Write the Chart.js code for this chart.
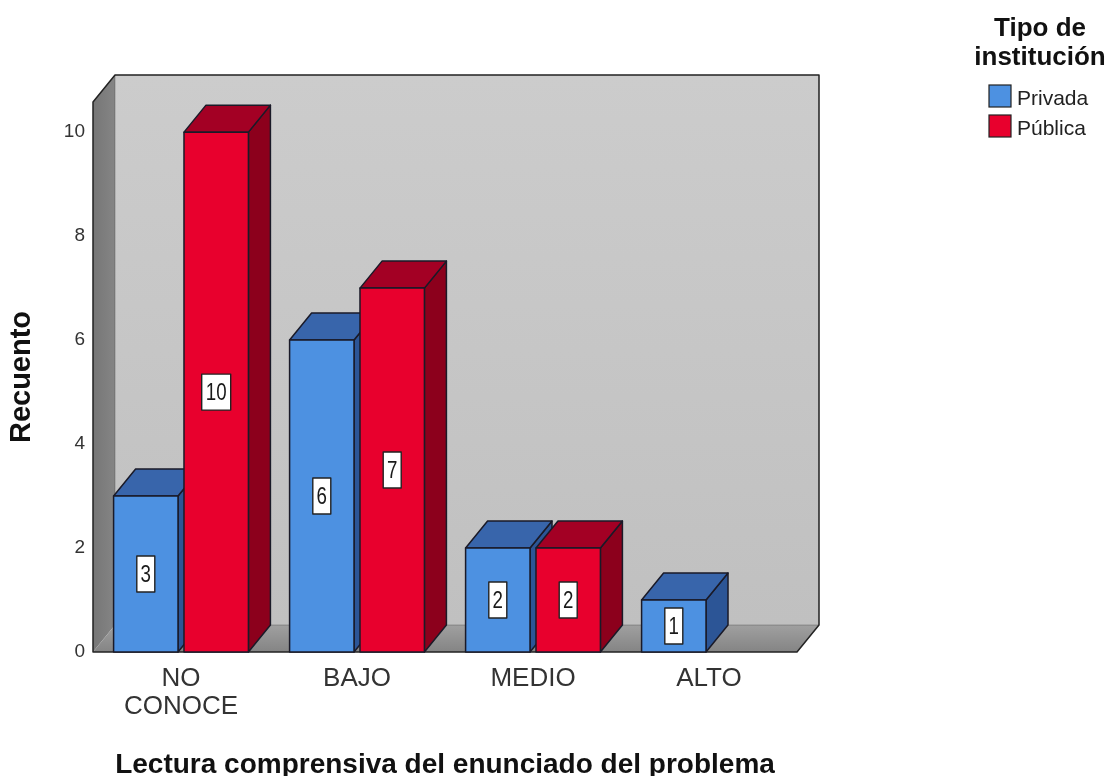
<!DOCTYPE html>
<html>
<head>
<meta charset="utf-8">
<title>Lectura comprensiva del enunciado del problema</title>
<script src="https://cdn.jsdelivr.net/npm/chart.js@4.4.1/dist/chart.umd.min.js"></script>
<style>
  html, body { margin: 0; padding: 0; background: #ffffff; }
  canvas { display: block; }
</style>
</head>
<body>
<canvas id="chart" width="1111" height="776"></canvas>
<script>
// Data
const categories = [['NO', 'CONOCE'], 'BAJO', 'MEDIO', 'ALTO'];
const privada = [3, 6, 2, 1];
const publica = [10, 7, 2, 0];
const seriesNames = ['Privada', 'Pública'];
const yTickValues = [0, 2, 4, 6, 8, 10];
const yMax = 10.58;
const legendTitle = ['Tipo de', 'institución'];
const xTitle = 'Lectura comprensiva del enunciado del problema';
const yTitle = 'Recuento';

// Styling
const FONT = '"Liberation Sans", Arial, Helvetica, sans-serif';
const DX = 22, DY = 27;              // depth offset of the 3D box
const EDGE = '#1a1a28';
const faces = {
  'Privada': { front: '#4d91e1', top: '#3865ab', side: '#2c5596' },
  'Pública': { front: '#e8002d', top: '#a30024', side: '#8c001c' }
};

function poly(ctx, pts) {
  ctx.beginPath();
  ctx.moveTo(pts[0][0], pts[0][1]);
  for (let i = 1; i < pts.length; i++) ctx.lineTo(pts[i][0], pts[i][1]);
  ctx.closePath();
}

// Walls, floor and extruded bars
const depthPlugin = {
  id: 'depth3d',
  beforeDatasetsDraw(chart) {
    const { ctx, chartArea: a } = chart;
    const L = a.left, R = a.right, T = a.top, B = a.bottom;
    ctx.save();
    // back wall
    const gw = ctx.createLinearGradient(0, T - DY, 0, B - DY);
    gw.addColorStop(0, '#cccccc');
    gw.addColorStop(1, '#c0c0c0');
    ctx.fillStyle = gw;
    ctx.fillRect(L + DX, T - DY, R - L, B - T);
    // left wall
    const gl = ctx.createLinearGradient(L, 0, L + DX, 0);
    gl.addColorStop(0, '#767676');
    gl.addColorStop(1, '#858585');
    ctx.fillStyle = gl;
    poly(ctx, [[L, T], [L + DX, T - DY], [L + DX, B - DY], [L, B]]);
    ctx.fill();
    // floor
    const gf = ctx.createLinearGradient(0, B - DY, 0, B);
    gf.addColorStop(0, '#a0a0a0');
    gf.addColorStop(1, '#848484');
    ctx.fillStyle = gf;
    poly(ctx, [[L, B], [R, B], [R + DX, B - DY], [L + DX, B - DY]]);
    ctx.fill();
    // inner seams
    ctx.strokeStyle = 'rgba(60,60,60,0.35)';
    ctx.lineWidth = 1;
    ctx.beginPath();
    ctx.moveTo(L + DX, T - DY); ctx.lineTo(L + DX, B - DY); ctx.lineTo(R + DX, B - DY);
    ctx.stroke();
    // outline
    ctx.strokeStyle = '#222222';
    ctx.lineWidth = 1.5;
    ctx.lineJoin = 'round';
    poly(ctx, [[L, B], [L, T], [L + DX, T - DY], [R + DX, T - DY], [R + DX, B - DY], [R, B]]);
    ctx.stroke();
    ctx.restore();
  },
  afterDatasetsDraw(chart) {
    const ctx = chart.ctx;
    const bars = [];
    chart.data.datasets.forEach((ds, di) => {
      const meta = chart.getDatasetMeta(di);
      meta.data.forEach((el, i) => {
        const v = ds.data[i];
        if (!v) return;
        const p = el.getProps(['x', 'y', 'base', 'width'], true);
        bars.push({ x: p.x, y: p.y, base: p.base, width: p.width, v, face: faces[ds.label] });
      });
    });
    bars.sort((a, b) => a.x - b.x);
    ctx.save();
    ctx.lineWidth = 1.5;
    ctx.lineJoin = 'round';
    ctx.strokeStyle = EDGE;
    bars.forEach(b => {
      const l = b.x - b.width / 2, r = b.x + b.width / 2, t = b.y, bot = b.base;
      // side
      ctx.fillStyle = b.face.side;
      poly(ctx, [[r, t], [r + DX, t - DY], [r + DX, bot - DY], [r, bot]]);
      ctx.fill(); ctx.stroke();
      // top
      ctx.fillStyle = b.face.top;
      poly(ctx, [[l, t], [l + DX, t - DY], [r + DX, t - DY], [r, t]]);
      ctx.fill(); ctx.stroke();
      // front
      ctx.fillStyle = b.face.front;
      ctx.fillRect(l, t, r - l, bot - t);
      ctx.strokeRect(l, t, r - l, bot - t);
    });
    // value boxes (narrow, tall digits)
    const sx = 0.78;
    ctx.font = '24px ' + FONT;
    ctx.textAlign = 'center';
    ctx.textBaseline = 'middle';
    bars.forEach(b => {
      const txt = String(b.v);
      const tw = ctx.measureText(txt).width * sx;
      const bw = Math.round(tw + 8), bh = 36;
      const cx = b.x, cy = (b.y + b.base) / 2;
      ctx.fillStyle = '#ffffff';
      ctx.fillRect(cx - bw / 2, cy - bh / 2, bw, bh);
      ctx.strokeStyle = '#222222';
      ctx.lineWidth = 1.4;
      ctx.strokeRect(cx - bw / 2, cy - bh / 2, bw, bh);
      ctx.save();
      ctx.translate(cx, cy + 1);
      ctx.scale(sx, 1);
      ctx.fillStyle = '#1a1a1a';
      ctx.fillText(txt, 0, 0);
      ctx.restore();
    });
    ctx.restore();
  }
};

// Legend with title at the upper right
const sideLegend = {
  id: 'sideLegend',
  afterDraw(chart) {
    const ctx = chart.ctx;
    ctx.save();
    ctx.fillStyle = '#111111';
    ctx.font = 'bold 26px ' + FONT;
    ctx.textAlign = 'center';
    ctx.textBaseline = 'alphabetic';
    legendTitle.forEach((line, i) => ctx.fillText(line, 1040, 36 + i * 29));
    ctx.font = '21px ' + FONT;
    ctx.textAlign = 'left';
    chart.data.datasets.forEach((ds, i) => {
      const y = 85 + i * 30;
      ctx.fillStyle = ds.backgroundColor;
      ctx.fillRect(989, y, 22, 22);
      ctx.strokeStyle = '#222222';
      ctx.lineWidth = 1.2;
      ctx.strokeRect(989, y, 22, 22);
      ctx.fillStyle = '#222222';
      ctx.fillText(ds.label, 1017, y + 20);
    });
    ctx.restore();
  }
};

new Chart(document.getElementById('chart'), {
  type: 'bar',
  data: {
    labels: categories,
    datasets: [
      { label: seriesNames[0], data: privada, backgroundColor: faces['Privada'].front, borderWidth: 0 },
      { label: seriesNames[1], data: publica, backgroundColor: faces['Pública'].front, borderWidth: 0 }
    ]
  },
  options: {
    responsive: false,
    animation: false,
    devicePixelRatio: 1,
    categoryPercentage: 0.8,
    barPercentage: 0.915,
    layout: { padding: { top: 102, right: 314, bottom: 0, left: 0 } },
    plugins: {
      legend: { display: false },
      tooltip: { enabled: false }
    },
    scales: {
      x: {
        grid: { display: false, drawTicks: false },
        border: { display: false },
        ticks: {
          color: '#333333',
          font: { family: FONT, size: 26, lineHeight: 1.08 },
          padding: 13,
          maxRotation: 0,
          autoSkip: false
        },
        title: {
          display: true,
          text: xTitle,
          color: '#111111',
          font: { family: FONT, size: 28, weight: 'bold', lineHeight: 1.2 },
          padding: { top: 0, bottom: -6 }
        },
        afterFit(scale) { scale.height = 124; }
      },
      y: {
        min: 0,
        max: yMax,
        grid: { display: false, drawTicks: false },
        border: { display: false },
        afterBuildTicks(scale) { scale.ticks = yTickValues.map(v => ({ value: v })); },
        ticks: {
          color: '#333333',
          font: { family: FONT, size: 19 },
          padding: 8
        },
        title: {
          display: true,
          text: yTitle,
          color: '#111111',
          font: { family: FONT, size: 29, weight: 'bold', lineHeight: 1.2 },
          padding: { top: 5, bottom: 0 }
        },
        afterFit(scale) { scale.width = 93; }
      }
    }
  },
  plugins: [depthPlugin, sideLegend]
});
</script>
</body>
</html>
